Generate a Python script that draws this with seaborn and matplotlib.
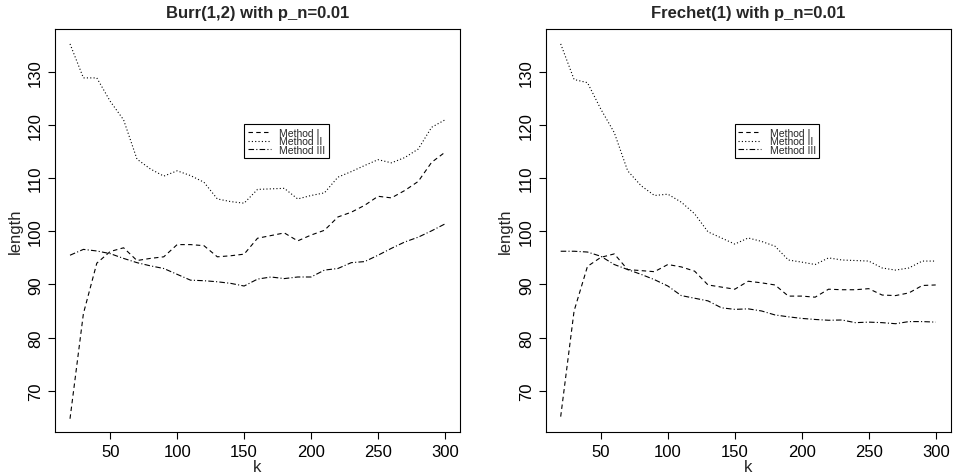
import numpy as np
import pandas as pd
import matplotlib
matplotlib.use("Agg")
import matplotlib.pyplot as plt
import seaborn as sns

# k grid
k = list(range(20, 310, 10))

# Burr(1,2) panel
burr_m1 = [64.7, 84.5, 94.0, 96.2, 96.9, 94.5, 94.9, 95.2, 97.5, 97.5, 97.3, 95.2, 95.4, 95.7,
           98.7, 99.2, 99.7, 98.2, 99.3, 100.2, 102.7, 103.6, 104.9, 106.6, 106.3, 107.7, 109.4, 113.0, 114.9]
burr_m2 = [135.3, 128.9, 128.9, 124.5, 121.0, 113.6, 111.75, 110.4, 111.4, 110.5, 109.25, 106.1, 105.6, 105.3,
           107.9, 108.0, 108.1, 106.1, 106.75, 107.25, 110.2, 111.25, 112.4, 113.5, 112.9, 113.9, 115.5, 119.6, 121.0]
burr_m3 = [95.5, 96.6, 96.3, 95.8, 94.9, 94.1, 93.5, 93.0, 91.9, 90.8, 90.7, 90.5, 90.2, 89.7,
           91.0, 91.4, 91.1, 91.4, 91.4, 92.7, 93.0, 94.1, 94.3, 95.5, 96.8, 98.0, 98.9, 100.1, 101.4]

# Frechet(1) panel
frechet_m1 = [65.1, 85.0, 93.4, 95.1, 95.75, 92.8, 92.6, 92.4, 93.75, 93.3, 92.5, 89.9, 89.5, 89.1,
              90.6, 90.3, 89.9, 87.8, 87.8, 87.6, 89.1, 89.0, 89.0, 89.2, 88.0, 87.9, 88.4, 89.8, 89.9]
frechet_m2 = [135.3, 128.6, 128.0, 123.0, 118.6, 111.4, 108.6, 106.75, 107.0, 105.5, 103.3, 99.9, 98.75, 97.6,
              98.75, 98.1, 97.2, 94.6, 94.2, 93.75, 95.0, 94.6, 94.5, 94.4, 93.1, 92.7, 93.1, 94.4, 94.4]
frechet_m3 = [96.25, 96.25, 96.1, 95.3, 93.75, 92.8, 91.9, 90.9, 89.7, 87.9, 87.4, 86.9, 85.6, 85.3,
              85.4, 85.0, 84.25, 83.9, 83.6, 83.4, 83.25, 83.3, 82.8, 82.9, 82.8, 82.6, 83.0, 83.0, 82.9]

methods = ["Method I", "Method II", "Method III"]
titles = ["Burr(1,2) with p_n=0.01", "Frechet(1) with p_n=0.01"]
panels = [[burr_m1, burr_m2, burr_m3], [frechet_m1, frechet_m2, frechet_m3]]

sns.set_style("ticks")
plt.rcParams["font.family"] = ["Liberation Sans", "DejaVu Sans"]

dashes = {"Method I": (4, 3), "Method II": (1, 2), "Method III": (5, 2, 1, 2)}

fig = plt.figure(figsize=(9.55, 4.77), dpi=100)
ax1 = fig.add_axes([0.0576, 0.0922, 0.4241, 0.8448])
ax2 = fig.add_axes([0.5714, 0.0922, 0.4241, 0.8448])

for ax, title, series in zip([ax1, ax2], titles, panels):
    df = pd.DataFrame({
        "k": k * 3,
        "length": series[0] + series[1] + series[2],
        "method": [m for m in methods for _ in k],
    })
    sns.lineplot(data=df, x="k", y="length", style="method", dashes=dashes,
                 color="black", linewidth=0.8, ax=ax)
    ax.set_xlim(8.8, 311.2)
    ax.set_ylim(62.2, 138.1)
    ax.set_xticks([50, 100, 150, 200, 250, 300])
    ax.set_yticks([70, 80, 90, 100, 110, 120, 130])
    ax.tick_params(axis="both", direction="out", length=5, width=0.8, labelsize=12, colors="black")
    for lab in ax.get_yticklabels():
        lab.set_rotation(90)
        lab.set_va("center")
    for sp in ax.spines.values():
        sp.set_visible(True)
        sp.set_color("black")
        sp.set_linewidth(0.8)
    ax.set_title(title, fontsize=12, fontweight="bold", pad=9)
    ax.set_xlabel("k", fontsize=12, labelpad=0)
    ax.set_ylabel("length", fontsize=12, labelpad=4)
    leg = ax.legend(loc="upper left", bbox_to_anchor=(0.467, 0.764), fontsize=7.5,
                    frameon=True, fancybox=False, framealpha=1, edgecolor="black",
                    handlelength=2.2, labelspacing=-0.15, borderpad=0.35, handletextpad=0.8,
                    borderaxespad=0)
    leg.get_frame().set_linewidth(0.8)

fig.savefig("out.png", dpi=100)
